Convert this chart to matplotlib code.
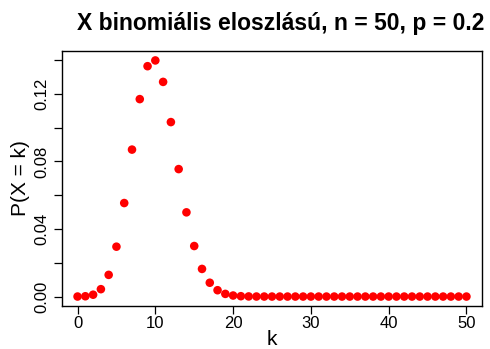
import matplotlib
matplotlib.use("Agg")
import matplotlib.pyplot as plt
import numpy as np

plt.rcParams['font.family'] = ['Liberation Sans', 'DejaVu Sans']

n = 50
p = 0.2
k = list(range(0, 51))
# P(X = k) for k = 0..50
prob = [
    1.43e-05, 1.78e-04, 1.093e-03, 4.371e-03, 1.284e-02, 2.953e-02, 5.537e-02,
    8.701e-02, 1.169e-01, 1.364e-01, 1.398e-01, 1.271e-01, 1.033e-01, 7.547e-02,
    4.986e-02, 2.992e-02, 1.636e-02, 8.181e-03, 3.750e-03, 1.579e-03, 6.12e-04,
    2.18e-04, 7.2e-05, 2.2e-05, 6.2e-06, 1.6e-06, 3.8e-07, 8.4e-08, 1.7e-08,
    3.2e-09, 5.6e-10, 9.1e-11, 1.4e-11, 1.9e-12, 2.5e-13, 3.0e-14, 3.3e-15,
    3.5e-16, 3.3e-17, 3.0e-18, 2.5e-19, 1.9e-20, 1.3e-21, 8.5e-23, 4.8e-24,
    2.5e-25, 1.2e-26, 4.9e-28, 1.8e-29, 5.3e-31, 8.9e-33,
]
y_ticks = [0.00, 0.02, 0.04, 0.06, 0.08, 0.10, 0.12, 0.14]
y_labels = ["0.00", "", "0.04", "", "0.08", "", "0.12", ""]
x_ticks = [0, 10, 20, 30, 40, 50]

fig = plt.figure(figsize=(4.9, 3.49), dpi=100)
ax = fig.add_axes([62 / 490, 1 - 306 / 349, 420 / 490, 255 / 349])

ax.scatter(k, prob, s=38, color="#ff0000", edgecolors="none", zorder=3)

xr = max(k) - min(k)
ax.set_xlim(min(k) - 0.04 * xr, max(k) + 0.04 * xr)
yr = max(prob)
ax.set_ylim(-0.04 * yr, yr * 1.04)

ax.set_xticks(x_ticks)
ax.set_xticklabels([str(t) for t in x_ticks], fontsize=12)
ax.set_yticks(y_ticks)
ax.set_yticklabels(y_labels, fontsize=12, rotation=90, va="center")
ax.tick_params(direction="out", length=6, width=0.9)
ax.tick_params(axis="x", pad=1.5)
ax.tick_params(axis="y", pad=3)

for s in ax.spines.values():
    s.set_linewidth(1.0)

ax.set_xlabel("k", fontsize=15, labelpad=-1)
ax.set_ylabel("P(X = k)", fontsize=15, labelpad=3)
ax.set_title("X binomiális eloszlású, n = 50, p = 0.2", fontsize=16.5,
             fontweight="bold", x=0.52, pad=15)

fig.savefig("out.png", dpi=100)
